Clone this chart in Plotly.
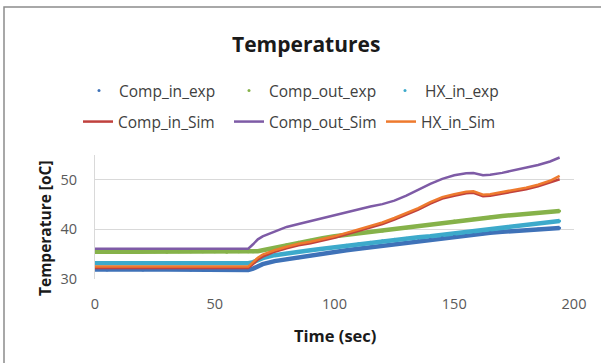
import plotly.graph_objects as go

# Time axis (seconds)
time_s = [0, 5, 10, 15, 20, 25, 30, 35, 40, 45, 50, 55, 60, 64, 66, 68,
          70, 75, 80, 85, 90, 95, 100, 105, 110, 115, 120, 125, 130, 135,
          140, 145, 150, 155, 158, 162, 165, 170, 175, 180, 185, 190, 194]

# Experimental series
comp_in_exp = [31.9, 31.8, 31.9, 31.9, 31.8, 31.9, 31.9, 31.9, 31.8, 31.9, 31.9, 31.9, 31.9, 31.8, 32.1, 32.6,
               33.0, 33.6, 34.0, 34.3, 34.7, 35.1, 35.4, 35.8, 36.1, 36.4, 36.7, 37.0, 37.3, 37.7,
               38.0, 38.3, 38.6, 38.8, 38.9, 39.1, 39.3, 39.5, 39.7, 39.9, 40.1, 40.2, 40.3]
comp_out_exp = [35.5, 35.4, 35.5, 35.5, 35.5, 35.5, 35.4, 35.5, 35.5, 35.5, 35.5, 35.4, 35.5, 35.5, 35.5, 35.6,
                35.8, 36.3, 36.9, 37.4, 37.8, 38.2, 38.6, 38.9, 39.2, 39.5, 39.7, 40.0, 40.3, 40.6,
                41.0, 41.3, 41.7, 41.9, 42.1, 42.3, 42.5, 42.7, 42.9, 43.1, 43.3, 43.5, 43.7]
hx_in_exp = [33.2, 33.2, 33.1, 33.2, 33.2, 33.2, 33.2, 33.1, 33.2, 33.2, 33.2, 33.2, 33.2, 33.2, 33.4, 33.8,
             34.2, 34.8, 35.2, 35.5, 35.8, 36.1, 36.4, 36.8, 37.1, 37.4, 37.7, 38.0, 38.2, 38.4,
             38.6, 38.9, 39.1, 39.4, 39.6, 39.9, 40.1, 40.4, 40.7, 41.0, 41.2, 41.5, 41.7]

# Simulated series
comp_in_sim = [32.2, 32.2, 32.2, 32.2, 32.2, 32.2, 32.2, 32.2, 32.2, 32.2, 32.2, 32.2, 32.2, 32.2, 33.0, 33.9,
               34.5, 35.5, 36.2, 36.8, 37.2, 37.7, 38.3, 39.0, 39.7, 40.4, 41.1, 42.0, 43.0, 44.0,
               45.2, 46.2, 46.8, 47.3, 47.4, 46.7, 46.8, 47.2, 47.6, 48.1, 48.7, 49.4, 50.1]
comp_out_sim = [36.1, 36.1, 36.1, 36.1, 36.1, 36.1, 36.1, 36.1, 36.1, 36.1, 36.1, 36.1, 36.1, 36.1, 37.0, 38.0,
                38.6, 39.5, 40.5, 41.1, 41.7, 42.3, 42.8, 43.4, 44.0, 44.6, 45.1, 45.8, 46.8, 48.0,
                49.2, 50.2, 50.9, 51.3, 51.35, 50.9, 51.0, 51.4, 51.9, 52.4, 53.0, 53.7, 54.5]
hx_in_sim = [32.5, 32.5, 32.5, 32.5, 32.5, 32.5, 32.5, 32.5, 32.5, 32.5, 32.5, 32.5, 32.5, 32.5, 33.4, 34.3,
             34.9, 35.8, 36.5, 37.1, 37.5, 38.0, 38.6, 39.3, 40.0, 40.7, 41.4, 42.3, 43.3, 44.3,
             45.5, 46.5, 47.1, 47.6, 47.7, 47.0, 47.1, 47.5, 47.9, 48.4, 49.0, 49.8, 50.8]

x_ticks = [0, 50, 100, 150, 200]
y_ticks = [30, 40, 50]

FONT = "Open Sans"
TXT = "#404040"

W, H = 601, 363
L, R, T, B = 95, 27, 155, 84
pw, ph = W - L - R, H - T - B

def px(x):
    return (x - L) / pw

def py(y):
    return (H - B - y) / ph

exp_series = [("Comp_in_exp", comp_in_exp, "#3F72B8"),
              ("Comp_out_exp", comp_out_exp, "#86B24A"),
              ("HX_in_exp", hx_in_exp, "#3DAACB")]
sim_series = [("Comp_in_Sim", comp_in_sim, "#C0413D"),
              ("Comp_out_Sim", comp_out_sim, "#7E5BA6"),
              ("HX_in_Sim", hx_in_sim, "#EE7A2E")]

# legend slots: (left x px, centre y px)
exp_slots = [(79, 91), (229, 91), (385, 91)]
sim_slots = [(78, 122), (229, 122), (381, 122)]

fig = go.Figure()
for name, ys, col in exp_series:
    fig.add_trace(go.Scatter(x=time_s, y=ys, mode="lines", line=dict(color=col, width=4.5),
                             showlegend=False, hoverinfo="skip"))
legends = {}
k = 1
for (name, ys, col), (lx, ly) in zip(exp_series, exp_slots):
    key = "legend" if k == 1 else f"legend{k}"
    fig.add_trace(go.Scatter(x=time_s, y=ys, mode="markers", name=name,
                             marker=dict(color=col, size=3), legend=key))
    legends[key] = dict(x=px(lx), y=py(ly), xanchor="left", yanchor="middle",
                        font=dict(size=15.5, color=TXT), bgcolor="rgba(0,0,0,0)")
    k += 1
for (name, ys, col), (lx, ly) in zip(sim_series, sim_slots):
    key = f"legend{k}"
    fig.add_trace(go.Scatter(x=time_s, y=ys, mode="lines", name=name,
                             line=dict(color=col, width=2.5), legend=key))
    legends[key] = dict(x=px(lx), y=py(ly), xanchor="left", yanchor="middle",
                        font=dict(size=15.5, color=TXT), bgcolor="rgba(0,0,0,0)")
    k += 1

fig.update_layout(
    width=W, height=H,
    margin=dict(l=L, r=R, t=T, b=B),
    paper_bgcolor="white", plot_bgcolor="white",
    font=dict(family=FONT, size=14, color=TXT),
    xaxis=dict(range=[0, 200], tickvals=x_ticks, showgrid=False, zeroline=False,
               showline=False, ticks="", ticklabelstandoff=14,
               tickfont=dict(size=14.5, color="#595959")),
    yaxis=dict(range=[30, 55], tickvals=y_ticks, showgrid=True, gridcolor="#D9D9D9",
               gridwidth=1, zeroline=False, showline=True, linecolor="#D9D9D9",
               ticks="", ticklabelstandoff=14, tickfont=dict(size=14.5, color="#595959")),
    annotations=[
        dict(text="<b>Temperatures</b>", x=px(306), y=py(44), xref="paper", yref="paper",
             xanchor="center", yanchor="middle", showarrow=False,
             font=dict(size=21, color="#1a1a1a")),
        dict(text="<b>Time (sec)</b>", x=px(335), y=py(335), xref="paper", yref="paper",
             xanchor="center", yanchor="middle", showarrow=False,
             font=dict(size=16.5, color="#1a1a1a")),
        dict(text="<b>Temperature [oC]</b>", x=px(45), y=py(228), xref="paper", yref="paper",
             xanchor="center", yanchor="middle", showarrow=False, textangle=-90,
             font=dict(size=15.5, color="#1a1a1a")),
    ],
    shapes=[
        dict(type="rect", xref="paper", yref="paper", x0=px(4), y0=py(7), x1=px(640), y1=py(400),
             line=dict(color="#8C8C8C", width=1.5), fillcolor="rgba(0,0,0,0)", layer="below"),
    ],
)
fig.update_layout(**legends)

fig.write_html("out.html", config={"displayModeBar": False},
               post_script="document.body.style.margin='0';document.body.style.overflow='hidden';")
